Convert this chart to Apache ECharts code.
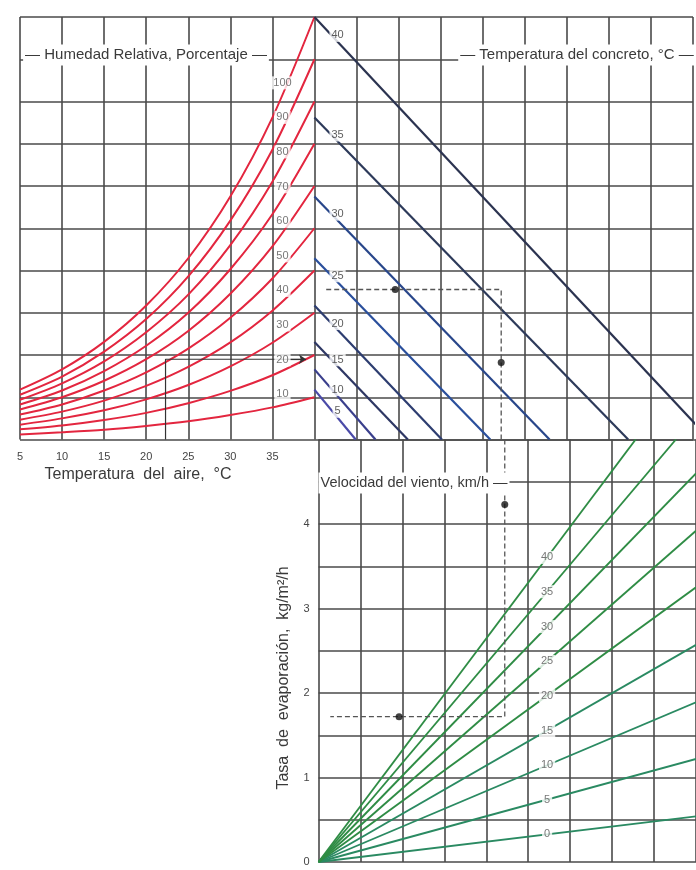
<!DOCTYPE html>
<html><head><meta charset="utf-8">
<script src="https://cdn.jsdelivr.net/npm/echarts@6/dist/echarts.min.js"></script>
<style>html,body{margin:0;padding:0;background:#fff}#c{width:696px;height:870px}</style>
</head><body><div id="c"></div>
<script>
const airTemps = [5, 10, 15, 20, 25, 30, 35, 40];
const airTempTicks = ['5', '10', '15', '20', '25', '30', '35'];
const rhLevels = [10, 20, 30, 40, 50, 60, 70, 80, 90, 100];
// vapour level (grid units, 0..10) of each relative-humidity curve at the air temperatures above
const rh10  = [0.12, 0.17, 0.23, 0.32, 0.43, 0.58, 0.76, 1.0];
const rh20  = [0.24, 0.33, 0.46, 0.63, 0.86, 1.15, 1.52, 2.0];
const rh30  = [0.35, 0.50, 0.69, 0.95, 1.29, 1.73, 2.29, 3.0];
const rh40  = [0.47, 0.66, 0.92, 1.27, 1.72, 2.30, 3.05, 4.0];
const rh50  = [0.59, 0.83, 1.16, 1.59, 2.15, 2.88, 3.81, 5.0];
const rh60  = [0.71, 1.00, 1.39, 1.90, 2.57, 3.45, 4.57, 6.0];
const rh70  = [0.83, 1.16, 1.62, 2.22, 3.00, 4.03, 5.33, 7.0];
const rh80  = [0.94, 1.33, 1.85, 2.54, 3.43, 4.60, 6.10, 8.0];
const rh90  = [1.06, 1.49, 2.08, 2.85, 3.86, 5.18, 6.86, 9.0];
const rh100 = [1.18, 1.66, 2.31, 3.17, 4.29, 5.75, 7.62, 10.0];
const rhCurves = [rh10, rh20, rh30, rh40, rh50, rh60, rh70, rh80, rh90, rh100];

const concreteTemps = [5, 10, 15, 20, 25, 30, 35, 40];
const concreteStart = [1.18, 1.66, 2.31, 3.17, 4.29, 5.75, 7.62, 10.0]; // level at the 40 °C border
const concreteRun   = [0.98, 1.45, 2.22, 3.03, 4.18, 5.59, 7.46, 9.40]; // cells to the right where it reaches 0

const windSpeeds = [0, 5, 10, 15, 20, 25, 30, 35, 40];
const windEndX = [9, 9, 9, 9, 9, 9, 9, 8.52, 7.56];
const windEndY = [0.54, 1.22, 1.89, 2.57, 3.25, 3.92, 4.60, 5, 5];
const evapTicks = ['0', '1', '2', '3', '4'];

// worked example traced with dashes
const exAirTemp = 22.3, exLeftLevel = 1.9;
const exLevel = 3.55, exX = 4.44, exStartX = 0.28, exEvap = 1.72;
const exTopDots = [[1.92, 3.55], [4.44, 1.82]];
const exBottomDots = [[4.44, 4.23], [1.92, 1.72]];

// ---- chart ----
const CELL = 42.65;
const gridLine = { show: true, lineStyle: { color: '#4a4a4a', width: 1.6 } };
const FONT = 'Liberation Sans, Arial, sans-serif';
const concreteColors = ['#4a4aa8', '#3a3f8c', '#2e3764', '#2d3d70', '#2a4f9c', '#28468a', '#2d3a5a', '#2b3350'];

const series = [];
rhCurves.forEach((vals, i) => {
  series.push({ type: 'line', xAxisIndex: 0, yAxisIndex: 0, data: airTemps.map((t, j) => [t, vals[j]]),
    smooth: 0.3, symbol: 'none', lineStyle: { color: '#e3263f', width: 2 }, z: 3, silent: true });
});
concreteTemps.forEach((t, i) => {
  series.push({ type: 'line', xAxisIndex: 1, yAxisIndex: 0, data: [[0, concreteStart[i]], [concreteRun[i], 0]],
    symbol: 'none', lineStyle: { color: concreteColors[i], width: 2.2 }, z: 3, silent: true });
});
windSpeeds.forEach((v, i) => {
  series.push({ type: 'line', xAxisIndex: 2, yAxisIndex: 1, data: [[0, 0], [windEndX[i], windEndY[i]]],
    symbol: 'none', lineStyle: { color: i < 4 ? '#2a8a62' : '#2f8c45', width: 1.9 }, z: 3, silent: true });
});
// labels
const lbl = (color) => ({ show: true, position: 'inside', formatter: p => p.data[2], color: color,
  fontSize: 11, fontFamily: FONT, backgroundColor: '#ffffff', padding: [1, 2] });
const clear = { color: 'rgba(0,0,0,0)' };
series.push({ type: 'scatter', xAxisIndex: 0, yAxisIndex: 0, symbolSize: 2, itemStyle: clear, z: 6, silent: true,
  data: rhCurves.map((vals, i) => [36.2, vals[6] + 0.24 * (vals[7] - vals[6]) + 0.25, String(rhLevels[i])]),
  label: lbl('#555') });
series.push({ type: 'scatter', xAxisIndex: 1, yAxisIndex: 0, symbolSize: 2, itemStyle: clear, z: 6, silent: true,
  data: concreteTemps.map((t, i) => [0.55, concreteStart[i] - 0.55 * concreteStart[i] / concreteRun[i] + 0.15, String(t)]),
  label: lbl('#333') });
series.push({ type: 'scatter', xAxisIndex: 2, yAxisIndex: 1, symbolSize: 2, itemStyle: clear, z: 6, silent: true,
  data: windSpeeds.map((v, i) => [5.45, windEndY[i] / windEndX[i] * 5.45, String(v)]),
  label: lbl('#555') });
// example path
const dash = { color: '#555', width: 1.3, type: [5, 3] };
series.push({ type: 'line', xAxisIndex: 1, yAxisIndex: 0, data: [[exStartX, exLevel], [exX, exLevel], [exX, 0]],
  symbol: 'none', lineStyle: dash, z: 5, silent: true });
series.push({ type: 'line', xAxisIndex: 2, yAxisIndex: 1, data: [[exX, 5], [exX, exEvap], [exStartX, exEvap]],
  symbol: 'none', lineStyle: dash, z: 5, silent: true });
series.push({ type: 'scatter', xAxisIndex: 1, yAxisIndex: 0, data: exTopDots, symbolSize: 7, itemStyle: { color: '#111' }, z: 7 });
series.push({ type: 'scatter', xAxisIndex: 2, yAxisIndex: 1, data: exBottomDots, symbolSize: 7, itemStyle: { color: '#111' }, z: 7 });
series.push({ type: 'line', xAxisIndex: 0, yAxisIndex: 0, data: [[exAirTemp, 0], [exAirTemp, exLeftLevel], [38.6, exLeftLevel]],
  symbol: 'none', lineStyle: { color: '#333', width: 1.2 }, z: 5, silent: true,
  markLine: { silent: true, symbol: ['none', 'arrow'], symbolSize: 7, label: { show: false },
    lineStyle: { color: '#333', width: 1.2, type: 'solid' },
    data: [[{ coord: [36, exLeftLevel] }, { coord: [39, exLeftLevel] }]] } });

const txt = (text, x, y, bg, size) => ({ type: 'text', x: x, y: y, z: 20,
  style: { text: text, font: (size || 15) + 'px ' + FONT, fill: '#3a3a3a', backgroundColor: bg ? '#fff' : undefined, padding: [3, 2],
    align: 'center', verticalAlign: 'middle' } });

const option = {
  animation: false,
  backgroundColor: '#fff',
  grid: [
    { left: 20, top: 17, width: 16 * CELL, height: 422.5 },
    { left: 20 + 7 * CELL, top: 439.5, width: 9 * CELL, height: 422.5 }
  ],
  xAxis: [
    { gridIndex: 0, type: 'value', min: 5, max: 85, interval: 5, splitLine: gridLine,
      axisLine: { show: false }, axisTick: { show: false },
      axisLabel: { margin: 12, fontSize: 11, fontFamily: FONT, color: '#444',
        formatter: v => { const i = airTemps.indexOf(v); return i >= 0 && i < airTempTicks.length ? airTempTicks[i] : ''; } } },
    { gridIndex: 0, type: 'value', min: -7, max: 9, show: false },
    { gridIndex: 1, type: 'value', min: 0, max: 9, interval: 1, splitLine: gridLine,
      axisLine: { show: false }, axisTick: { show: false }, axisLabel: { show: false } }
  ],
  yAxis: [
    { gridIndex: 0, type: 'value', min: 0, max: 10, interval: 1, splitLine: gridLine,
      axisLine: { show: false }, axisTick: { show: false }, axisLabel: { show: false } },
    { gridIndex: 1, type: 'value', min: 0, max: 5, interval: 0.5, splitLine: gridLine,
      axisLine: { show: false }, axisTick: { show: false },
      axisLabel: { margin: 9, fontSize: 11, fontFamily: FONT, color: '#444',
        formatter: v => (Number.isInteger(v) && v < evapTicks.length) ? evapTicks[v] : '' } }
  ],
  series: series,
  graphic: [
    txt('— Humedad Relativa, Porcentaje —', 146, 55, true),
    txt('— Temperatura del concreto, °C —', 577, 55, true),
    txt('Temperatura  del  aire,  °C', 138, 475, false, 16),
    txt('Velocidad del viento, km/h —', 414, 483, true, 14.5),
    { type: 'text', x: 284, y: 678, rotation: Math.PI / 2, z: 20,
      style: { text: 'Tasa  de  evaporación,  kg/m²/h', font: '16px ' + FONT, fill: '#3a3a3a', align: 'center', verticalAlign: 'middle' } }
  ]
};
const chart = echarts.init(document.getElementById('c'));
chart.setOption(option);
</script></body></html>
